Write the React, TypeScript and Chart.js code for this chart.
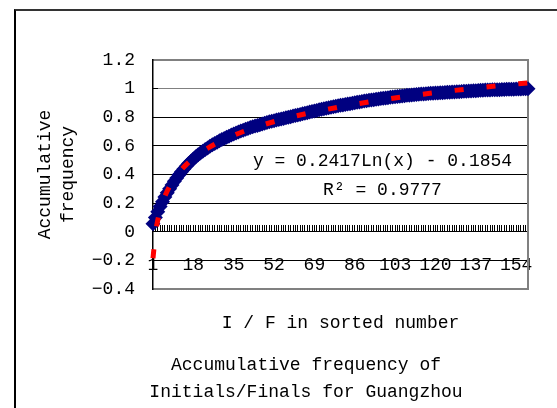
import React, { useEffect, useRef } from 'react';
import { Chart, registerables } from 'chart.js';

Chart.register(...registerables);

const FONT = '"Liberation Mono", "DejaVu Sans Mono", monospace';

// Accumulative frequency of each Initial/Final, in sorted order (1..159)
const accumFreq = [
  0.056, 0.100, 0.140, 0.176, 0.210, 0.242, 0.272, 0.300, 0.327, 0.352,
  0.376, 0.398, 0.419, 0.439, 0.458, 0.476, 0.493, 0.509, 0.524, 0.538,
  0.551, 0.563, 0.575, 0.586, 0.597, 0.607, 0.617, 0.626, 0.635, 0.644,
  0.652, 0.660, 0.668, 0.676, 0.683, 0.690, 0.697, 0.704, 0.710, 0.716,
  0.722, 0.728, 0.733, 0.738, 0.743, 0.748, 0.753, 0.758, 0.763, 0.768,
  0.772, 0.776, 0.780, 0.784, 0.788, 0.792, 0.796, 0.800, 0.804, 0.808,
  0.812, 0.816, 0.820, 0.824, 0.828, 0.832, 0.836, 0.840, 0.844, 0.848,
  0.852, 0.856, 0.859, 0.863, 0.866, 0.870, 0.873, 0.877, 0.880, 0.883,
  0.886, 0.889, 0.892, 0.895, 0.898, 0.901, 0.904, 0.907, 0.910, 0.913,
  0.916, 0.918, 0.921, 0.923, 0.926, 0.928, 0.931, 0.933, 0.935, 0.937,
  0.939, 0.941, 0.943, 0.945, 0.947, 0.949, 0.951, 0.953, 0.954, 0.956,
  0.957, 0.959, 0.960, 0.962, 0.963, 0.964, 0.966, 0.967, 0.968, 0.969,
  0.970, 0.971, 0.972, 0.973, 0.974, 0.975, 0.976, 0.977, 0.978, 0.979,
  0.980, 0.981, 0.982, 0.983, 0.984, 0.985, 0.986, 0.987, 0.988, 0.989,
  0.990, 0.990, 0.991, 0.992, 0.992, 0.993, 0.993, 0.994, 0.994, 0.995,
  0.995, 0.996, 0.996, 0.997, 0.997, 0.998, 0.999, 0.999, 1.000,
];

// Logarithmic trendline
const trendX = [1, 2, 3, 4, 5, 6, 8, 10, 12, 15, 18, 22, 27, 33, 40, 48, 58, 70, 85, 100, 120, 140, 159];
const trendY = [-0.185, -0.018, 0.080, 0.150, 0.204, 0.248, 0.317, 0.371, 0.415, 0.469, 0.513, 0.562, 0.611, 0.660, 0.706, 0.750, 0.796, 0.841, 0.888, 0.928, 0.972, 1.009, 1.040];

const xMin = 1;
const xMax = 159;
const xTickLabels = [1, 18, 35, 52, 69, 86, 103, 120, 137, 154];
const yTickValues = [-0.4, -0.2, 0, 0.2, 0.4, 0.6, 0.8, 1, 1.2];
const yTickLabels = ['\u22120.4', '\u22120.2', '0', '0.2', '0.4', '0.6', '0.8', '1', '1.2'];

const yAxisTitle = ['Accumulative', 'frequency'];
const xAxisTitle = 'I / F in sorted number';
const chartTitle = ['Accumulative frequency of', 'Initials/Finals for Guangzhou'];
const equationLines = ['y = 0.2417Ln(x) - 0.1854', 'R\u00B2 = 0.9777'];
const equationX = 97.7;
const equationY = [0.496, 0.292];

const equationPlugin = {
  id: 'equationLabel',
  afterDatasetsDraw(chart: any) {
    const { ctx, scales } = chart;
    ctx.save();
    ctx.font = `18px ${FONT}`;
    ctx.fillStyle = '#000';
    ctx.textAlign = 'center';
    ctx.textBaseline = 'middle';
    equationLines.forEach((t, i) => {
      ctx.fillText(t, scales.x.getPixelForValue(equationX), scales.y.getPixelForValue(equationY[i]));
    });
    ctx.restore();
  },
};

export default function App() {
  const ref = useRef<HTMLCanvasElement | null>(null);

  useEffect(() => {
    if (!ref.current) return;
    const font = { family: FONT, size: 18, weight: 'normal' as const };
    const chart = new Chart(ref.current, {
      type: 'scatter',
      data: {
        datasets: [
          {
            label: 'trend',
            data: trendX.map((x, i) => ({ x, y: trendY[i] })),
            showLine: true,
            borderColor: '#FF0000',
            borderWidth: 5,
            borderDash: [9, 23],
            borderCapStyle: 'butt',
            pointRadius: 0,
            cubicInterpolationMode: 'monotone',
            fill: false,
            clip: false,
            order: 0,
          } as any,
          {
            label: 'Accumulative frequency',
            data: accumFreq.map((y, i) => ({ x: i + 1, y })),
            showLine: false,
            pointStyle: 'rectRot',
            pointRadius: 7.5,
            pointBorderWidth: 0,
            pointBackgroundColor: '#000080',
            pointBorderColor: '#000080',
            clip: false,
            order: 1,
          } as any,
        ],
      },
      options: {
        animation: false,
        responsive: false,
        events: [],
        layout: { padding: { left: 14, right: 14, top: 60, bottom: 2.5 } },
        plugins: {
          legend: { display: false },
          tooltip: { enabled: false },
          title: {
            display: true,
            position: 'bottom',
            text: chartTitle,
            color: '#000',
            font: { ...font, lineHeight: 1.5 },
            padding: { top: 17.5, bottom: 0 },
          },
        },
        scales: {
          x: {
            type: 'linear',
            position: 'bottom',
            min: xMin,
            max: xMax,
            ticks: { display: false },
            grid: { display: false },
            border: { display: true, color: '#808080', width: 2 },
            title: {
              display: true,
              text: xAxisTitle,
              color: '#000',
              font: { ...font, lineHeight: 1.2 },
              padding: 0,
            },
            afterFit: (s: any) => { s.height = 45; },
          },
          xz: {
            type: 'linear',
            position: { y: 0 },
            min: xMin,
            max: xMax,
            ticks: {
              stepSize: 1,
              autoSkip: false,
              maxRotation: 0,
              color: '#000',
              font: { ...font, lineHeight: 1.2 },
              padding: 29.7,
              callback: (v: any) => (xTickLabels.includes(v) ? String(v) : ''),
            },
            grid: {
              display: true,
              drawOnChartArea: false,
              drawTicks: true,
              tickLength: -7,
              tickColor: '#000',
              tickWidth: 1,
            },
            border: { display: true, color: '#000', width: 1 },
          },
          x2: {
            type: 'linear',
            position: 'top',
            ticks: { display: false },
            grid: { display: false },
            border: { display: true, color: '#808080', width: 2 },
            afterFit: (s: any) => { s.height = 0; },
          },
          y: {
            type: 'linear',
            position: 'left',
            min: -0.4,
            max: 1.2,
            afterBuildTicks: (s: any) => { s.ticks = yTickValues.map((value) => ({ value })); },
            ticks: {
              color: '#000',
              font: { ...font, lineHeight: 1.2 },
              padding: 23,
              callback: (v: any) => {
                const i = yTickValues.findIndex((t) => Math.abs(t - v) < 1e-9);
                return i >= 0 ? yTickLabels[i] : '';
              },
            },
            grid: {
              color: (c: any) => {
                const v = c.tick ? c.tick.value : 0;
                return v > 0.95 || v < -0.35 ? '#808080' : '#000';
              },
              lineWidth: 1,
              drawTicks: true,
              tickLength: -5,
              tickColor: '#000',
            },
            border: { display: true, color: '#000', width: 1.5 },
            title: {
              display: true,
              text: yAxisTitle,
              color: '#000',
              font: { ...font, lineHeight: 1.28 },
              padding: { top: 19.5, bottom: 0 },
            },
            afterFit: (s: any) => { s.width = 139; },
          },
          y2: {
            type: 'linear',
            position: 'right',
            ticks: { display: false },
            grid: { display: false },
            border: { display: true, color: '#808080', width: 2 },
            afterFit: (s: any) => { s.width = 70; },
          },
        },
      } as any,
      plugins: [equationPlugin],
    });
    return () => chart.destroy();
  }, []);

  return (
    <div
      style={{
        position: 'fixed',
        left: 0,
        top: 0,
        width: 557,
        height: 408,
        overflow: 'hidden',
        background: '#fff',
      }}
    >
      <div
        style={{
          position: 'absolute',
          left: 14,
          top: 9,
          width: 700,
          height: 600,
          borderTop: '2px solid #333',
          borderLeft: '2px solid #000',
          boxSizing: 'border-box',
        }}
      />
      <canvas
        ref={ref}
        width={612}
        height={408}
        style={{ position: 'absolute', left: 0, top: 0, width: 612, height: 408, display: 'block' }}
      />
    </div>
  );
}
